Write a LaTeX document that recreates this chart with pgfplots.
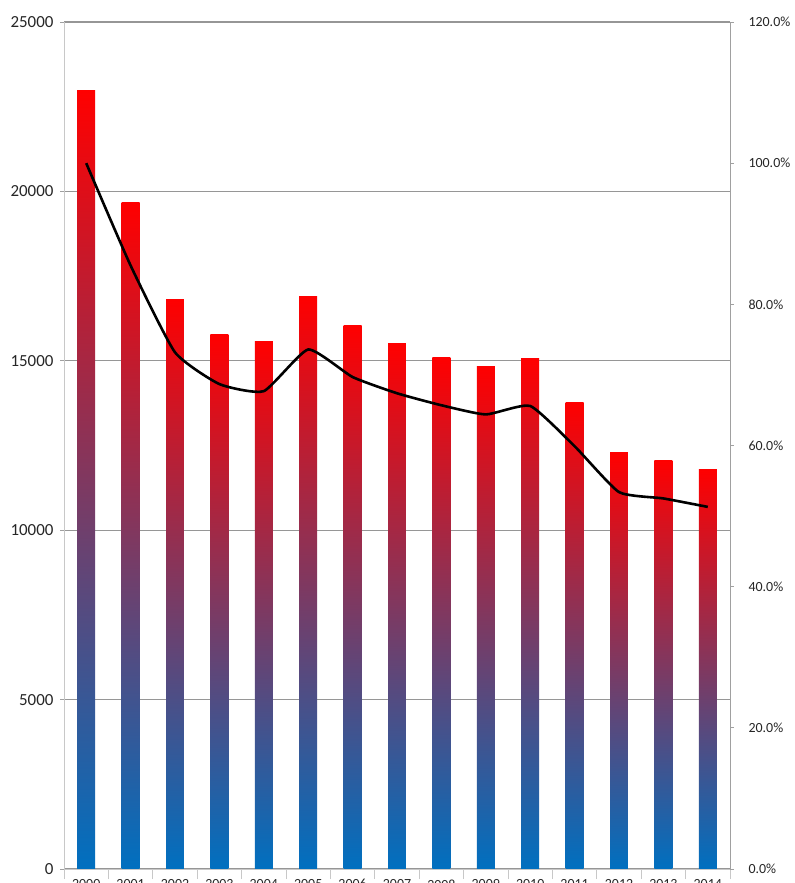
\documentclass[border=0pt]{standalone}
\usepackage{pgfplots}
\pgfplotsset{compat=1.18}
\usepackage{fontspec}
\setmainfont{Carlito}
\definecolor{barblue}{RGB}{0,112,192}
\definecolor{barred}{RGB}{255,0,0}
\definecolor{gridgray}{RGB}{150,150,150}
\definecolor{axgray}{RGB}{200,200,200}
\definecolor{raxgray}{RGB}{160,160,160}
\pgfplotsset{gbar/.style={ybar, bar width=0.405, bar shift=0pt, draw=none, bottom color=barblue, top color=barred, forget plot}}
\begin{document}
\begin{tikzpicture}
\begin{axis}[
  scale only axis, width=666bp, height=847bp,
  xmin=-0.5, xmax=14.5, ymin=0, ymax=25000,
  axis x line*=bottom, axis y line*=left,
  axis line style={draw=axgray, line width=0.8bp},
  tick align=outside,
  xtick={0,...,14},
  xticklabels={2000,2001,2002,2003,2004,2005,2006,2007,2008,2009,2010,2011,2012,2013,2014},
  minor xtick={-0.5,0.5,...,14.5},
  major x tick style={draw=none},
  minor x tick style={draw=axgray, line width=0.8bp},
  minor tick length=10bp,
  ytick={0,5000,...,25000},
  scaled y ticks=false,
  major tick length=4bp,
  y tick style={draw=raxgray, line width=0.8bp},
  ymajorgrids,
  major grid style={draw=gridgray, line width=1.3bp},
  /pgf/number format/1000 sep={},
  /pgf/number format/assume math mode=true,
  yticklabel style={font=\fontsize{17}{19}\selectfont, text=black!85, xshift=-3bp},
  xticklabel style={font=\fontsize{14}{16}\selectfont, text=black!85, yshift=-3bp},
  clip=false,
]
\addplot[gbar] coordinates {(0,22990)};
\addplot[gbar] coordinates {(1,19660)};
\addplot[gbar] coordinates {(2,16820)};
\addplot[gbar] coordinates {(3,15790)};
\addplot[gbar] coordinates {(4,15555)};
\addplot[gbar] coordinates {(5,16910)};
\addplot[gbar] coordinates {(6,16030)};
\addplot[gbar] coordinates {(7,15500)};
\addplot[gbar] coordinates {(8,15110)};
\addplot[gbar] coordinates {(9,14820)};
\addplot[gbar] coordinates {(10,15080)};
\addplot[gbar] coordinates {(11,13780)};
\addplot[gbar] coordinates {(12,12280)};
\addplot[gbar] coordinates {(13,12070)};
\addplot[gbar] coordinates {(14,11800)};
\coordinate (bl) at (rel axis cs:0,0);
\coordinate (tr) at (rel axis cs:1,1);
\end{axis}
\begin{axis}[
  scale only axis, width=666bp, height=847bp,
  xmin=-0.5, xmax=14.5, ymin=0, ymax=120,
  axis x line=none, axis y line*=right,
  axis line style={draw=raxgray, line width=1bp},
  tick align=outside,
  major tick length=4bp,
  y tick style={draw=raxgray, line width=0.8bp},
  ytick={0,20,...,120},
  yticklabels={0.0\%,20.0\%,40.0\%,60.0\%,80.0\%,100.0\%,120.0\%},
  yticklabel style={font=\fontsize{14}{16}\selectfont, text=black!85, xshift=11bp},
  clip=false,
]
\addplot[black, line width=2.6bp, smooth, tension=0.3]
  coordinates {(0,100.0) (1,85.5) (2,73.2) (3,68.7) (4,67.7) (5,73.6) (6,69.7) (7,67.4) (8,65.7) (9,64.4) (10,65.6) (11,59.9) (12,53.4) (13,52.5) (14,51.3)};
\end{axis}
\pgfresetboundingbox
\path[use as bounding box] ([shift={(-64bp,-14bp)}]bl) rectangle ([shift={(65bp,22bp)}]tr);
\end{tikzpicture}
\end{document}
